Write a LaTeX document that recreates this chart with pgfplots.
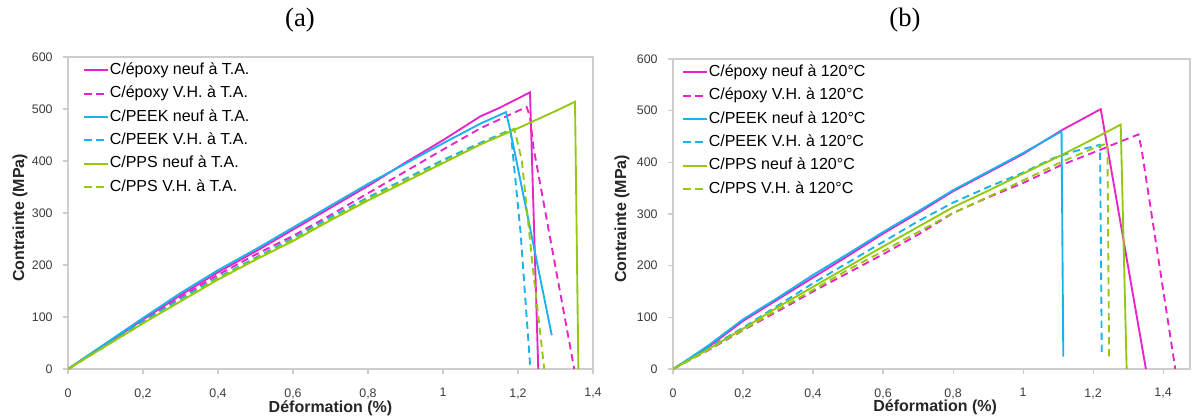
\documentclass[border=0pt]{standalone}
\usepackage{fontspec}
\setmainfont{Liberation Sans}
\newfontfamily\seriffont{Liberation Serif}
\usepackage{pgfplots}
\pgfplotsset{compat=1.18}
\definecolor{cMag}{RGB}{232,35,200}
\definecolor{cCyan}{RGB}{25,178,235}
\definecolor{cGreen}{RGB}{150,200,15}
\definecolor{cAxis}{RGB}{205,205,205}
\definecolor{cTick}{RGB}{60,60,60}
\pgfplotsset{
  panel/.style={
    scale only axis,
    ymin=0, ymax=600,
    xtick={0,0.2,0.4,0.6,0.8,1,1.2,1.4},
    ytick={0,100,200,300,400,500,600},
    xticklabels={0,{0,2},{0,4},{0,6},{0,8},1,{1,2},{1,4}},
    axis line style={cAxis, line width=1.1pt},
    tick style={cAxis, line width=0.8pt},
    tick align=outside, major tick length=4pt,
    xtick pos=bottom, ytick pos=left,
    ticklabel style={font=\fontsize{9.3}{11}\selectfont, text=cTick},
    /pgf/number format/assume math mode=true,
    xticklabel shift=7pt,
    yticklabel shift=4pt,
    label style={font=\bfseries\fontsize{12}{14}\selectfont, text=black!85},
    xlabel={Déformation (\%)},
    ylabel={Contrainte (MPa)},
    legend cell align=left,
    legend image code/.code={\draw[##1] (0pt,0pt) -- (18pt,0pt);},
    legend style={font=\fontsize{12}{14}\selectfont, draw=none, fill=none,
      anchor=north west, inner sep=0pt, row sep=5pt,
      nodes={inner sep=0.5pt, text height=9pt, text depth=2.5pt}},
    every axis plot/.append style={line width=1.4pt},
  },
  dsh/.style={dash pattern=on 5.5pt off 3.5pt},
}
\begin{document}
\begin{tikzpicture}
\path[use as bounding box] (0,0) rectangle (894pt,314.25pt);
\node[font=\seriffont\fontsize{20}{22}\selectfont] at (225pt,299.5pt) {(a)};
\node[font=\seriffont\fontsize{20}{22}\selectfont] at (678.75pt,299.5pt) {(b)};
% panel (a)
\begin{axis}[panel,
  xmin=0, xmax=1.4,
  at={(51pt,37.5pt)}, anchor=south west,
  width=393.75pt, height=234pt,
  xlabel style={at={(axis description cs:0.5,-0.125)}, anchor=center},
  ylabel style={at={(axis description cs:-0.0914,0.484)}, anchor=center},
  legend style={at={(0.0286,0.985)}},
]
\addplot[cMag] coordinates {(0,0)(0.1,47)(0.2,95)(0.3,142)(0.4,186)(0.5,226)(0.6,268)(0.7,310)(0.8,352)(0.9,397)(1.0,440)(1.1,486)(1.15,502)(1.232,532)(1.254,0)};
\addlegendentry{C/époxy neuf à T.A.}
\addplot[cMag,dsh] coordinates {(0,0)(0.1,46)(0.2,93)(0.3,138)(0.4,181)(0.5,220)(0.6,256)(0.7,296)(0.8,338)(0.9,380)(1.0,422)(1.1,463)(1.223,504)(1.232,485)(1.241,427)(1.35,0)};
\addlegendentry{C/époxy V.H. à T.A.}
\addplot[cCyan] coordinates {(0,0)(0.1,49)(0.2,98)(0.3,146)(0.4,190)(0.5,230)(0.6,272)(0.7,314)(0.8,356)(0.9,395)(1.0,434)(1.1,472)(1.168,494)(1.179,460)(1.29,65)};
\addlegendentry{C/PEEK neuf à T.A.}
\addplot[cCyan,dsh] coordinates {(0,0)(0.1,47)(0.2,92)(0.3,135)(0.4,176)(0.5,214)(0.6,252)(0.7,292)(0.8,330)(0.9,366)(1.0,402)(1.1,435)(1.18,460)(1.207,261)(1.233,0)};
\addlegendentry{C/PEEK V.H. à T.A.}
\addplot[cGreen] coordinates {(0,0)(0.1,44)(0.2,88)(0.3,130)(0.4,172)(0.5,210)(0.6,246)(0.7,286)(0.8,324)(0.9,360)(1.0,396)(1.1,432)(1.2,463)(1.3,496)(1.352,514)(1.361,0)};
\addlegendentry{C/PPS neuf à T.A.}
\addplot[cGreen,dsh] coordinates {(0,0)(0.1,44)(0.2,88)(0.3,131)(0.4,174)(0.5,212)(0.6,249)(0.7,288)(0.8,327)(0.9,363)(1.0,398)(1.1,432)(1.19,462)(1.21,402)(1.241,185)(1.27,0)};
\addlegendentry{C/PPS V.H. à T.A.}
\end{axis}
% panel (b)
\begin{axis}[panel,
  xmin=0, xmax=1.477,
  at={(504.75pt,37.5pt)}, anchor=south west,
  width=387.75pt, height=232.5pt,
  xlabel style={at={(axis description cs:0.507,-0.125)}, anchor=center},
  ylabel style={at={(axis description cs:-0.0986,0.484)}, anchor=center},
  legend style={at={(0.0174,0.985)}},
]
\addplot[cMag] coordinates {(0,0)(0.05,20)(0.1,42)(0.2,93)(0.3,135)(0.4,177)(0.5,219)(0.6,262)(0.7,302)(0.8,344)(0.9,380)(1.0,416)(1.11,462)(1.222,503)(1.351,0)};
\addlegendentry{C/époxy neuf à 120°C}
\addplot[cMag,dsh] coordinates {(0,0)(0.05,18)(0.1,36)(0.2,75)(0.3,112)(0.4,150)(0.5,186)(0.6,222)(0.7,260)(0.8,302)(0.9,332)(1.0,360)(1.11,395)(1.22,424)(1.277,440)(1.33,454)(1.339,424)(1.435,0)};
\addlegendentry{C/époxy V.H. à 120°C}
\addplot[cCyan] coordinates {(0,0)(0.05,22)(0.1,45)(0.2,96)(0.3,138)(0.4,182)(0.5,223)(0.6,265)(0.7,305)(0.8,346)(0.9,382)(1.0,418)(1.11,460)(1.115,24)};
\addlegendentry{C/PEEK neuf à 120°C}
\addplot[cCyan,dsh] coordinates {(0,0)(0.05,20)(0.1,40)(0.2,80)(0.3,123)(0.4,166)(0.5,206)(0.6,246)(0.7,286)(0.8,322)(0.9,352)(1.0,380)(1.087,408)(1.15,422)(1.22,434)(1.225,24)};
\addlegendentry{C/PEEK V.H. à 120°C}
\addplot[cGreen] coordinates {(0,0)(0.05,19)(0.1,38)(0.2,78)(0.3,120)(0.4,159)(0.5,198)(0.6,237)(0.7,275)(0.8,313)(0.9,345)(1.0,378)(1.11,414)(1.2,445)(1.279,473)(1.296,0)};
\addlegendentry{C/PPS neuf à 120°C}
\addplot[cGreen,dsh] coordinates {(0,0)(0.05,18)(0.1,37)(0.2,76)(0.3,115)(0.4,153)(0.5,192)(0.6,228)(0.7,265)(0.8,302)(0.9,333)(1.0,365)(1.11,401)(1.2,427)(1.241,437)(1.246,20)};
\addlegendentry{C/PPS V.H. à 120°C}
\end{axis}
\end{tikzpicture}
\end{document}
